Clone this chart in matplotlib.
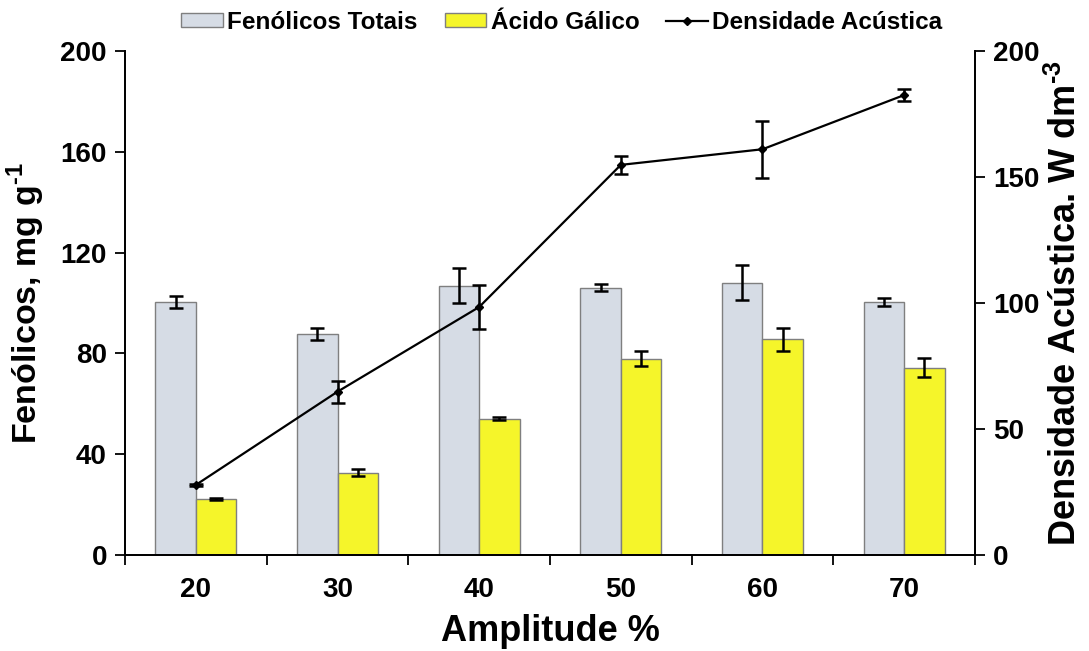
import numpy as np
import matplotlib
matplotlib.use('Agg')
import matplotlib.pyplot as plt
from matplotlib.lines import Line2D

# data
amplitude = ['20', '30', '40', '50', '60', '70']
fenolicos = [100.4, 87.7, 106.9, 106.1, 108.0, 100.5]
fenolicos_err = [2.4, 2.4, 6.8, 1.5, 7.0, 1.6]
galico = [22.3, 32.7, 54.1, 77.8, 85.6, 74.3]
galico_err = [0.4, 1.5, 0.7, 3.0, 4.6, 3.8]
densidade = [27.8, 64.8, 98.4, 154.8, 161.0, 182.5]
densidade_err = [0.5, 4.4, 8.9, 3.7, 11.3, 2.4]

plt.rcParams['font.family'] = ['Liberation Sans', 'DejaVu Sans']
plt.rcParams['font.weight'] = 'bold'
plt.rcParams['mathtext.fontset'] = 'custom'
plt.rcParams['mathtext.rm'] = 'Liberation Sans:bold'
plt.rcParams['mathtext.bf'] = 'Liberation Sans:bold'

fig = plt.figure(figsize=(10.89, 6.51), dpi=100)
ax = fig.add_axes([0.1148, 0.1475, 0.7805, 0.7742])
ax2 = ax.twinx()

x = np.arange(len(amplitude))
w = 0.286
ekw = dict(elinewidth=1.8, capthick=1.8)
ax.bar(x - w / 2, fenolicos, w, yerr=fenolicos_err, capsize=5, color='#D6DCE5',
       edgecolor='#7F7F7F', linewidth=1, error_kw=ekw, label='Fenólicos Totais')
ax.bar(x + w / 2, galico, w, yerr=galico_err, capsize=5, color='#F5F52A',
       edgecolor='#7F7F7F', linewidth=1, error_kw=ekw, label='Ácido Gálico')
ax2.errorbar(x, densidade, yerr=densidade_err, color='black', lw=1.6, marker='D',
             ms=4, capsize=5, elinewidth=1.8, capthick=1.8)

ax.set_xlim(-0.5, len(amplitude) - 0.5)
ax.set_ylim(0, 200)
ax2.set_ylim(0, 200)
ax.set_yticks([0, 40, 80, 120, 160, 200])
ax2.set_yticks([0, 50, 100, 150, 200])

# category boundaries as ticks, labels at centres
ax.set_xticks(np.arange(-0.5, len(amplitude)), minor=False)
ax.set_xticklabels([])
ax.set_xticks(x, minor=True)
ax.set_xticklabels(amplitude, minor=True)
ax.tick_params(axis='x', which='minor', length=0, labelsize=20, pad=16)
ax.tick_params(axis='x', which='major', length=7, width=1.3, direction='out')
ax.tick_params(axis='y', length=7, width=1.3, direction='out', labelsize=20, pad=6)
ax2.tick_params(axis='y', length=7, width=1.3, direction='out', labelsize=20, pad=6)

for a in (ax, ax2):
    a.spines['top'].set_visible(False)
    for s in ('left', 'right', 'bottom'):
        a.spines[s].set_linewidth(1.3)

ax.set_xlabel('Amplitude %', fontsize=26, fontweight='bold', labelpad=8)
ax.set_ylabel(r'Fenólicos, mg g$^{\text{-1}}$', fontsize=24.5, fontweight='bold', labelpad=10)
ax2.set_ylabel(r'Densidade Acústica. W dm$^{\text{-3}}$', fontsize=26, fontweight='bold',
               rotation=90, labelpad=6)

h1, l1 = ax.get_legend_handles_labels()
line_h = Line2D([], [], color='black', lw=1.6, marker='D', ms=4)
fig.legend(h1 + [line_h], l1 + ['Densidade Acústica'], loc='center',
           bbox_to_anchor=(0.516, 0.966), ncol=3, frameon=False,
           prop={'family': 'Liberation Sans', 'weight': 'bold', 'size': 17.5},
           handlelength=1.7, handleheight=0.45, handletextpad=0.2, columnspacing=1.1)

fig.savefig('out.png', dpi=100)
